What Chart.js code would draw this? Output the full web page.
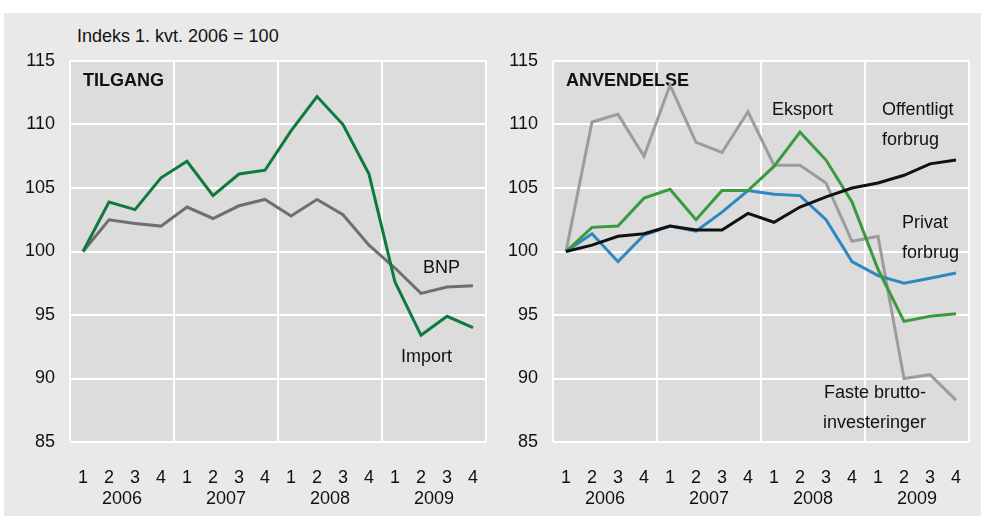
<!DOCTYPE html>
<html>
<head>
<meta charset="utf-8">
<script src="https://cdn.jsdelivr.net/npm/chart.js@4/dist/chart.umd.min.js"></script>
<style>
  body { margin: 0; background: #fff; width: 981px; height: 516px; position: relative; overflow: hidden; }
  #bg { position: absolute; left: 4px; top: 13px; right: 0; bottom: 0; background: #e9e9e9; }
  #unit { position: absolute; left: 77px; top: 26px; font: 18px 'Liberation Sans', Arial, sans-serif; color: #111; }
  .panel { position: absolute; top: 0; }
</style>
</head>
<body>
<div id="bg"></div>
<div id="unit">Indeks 1. kvt. 2006 = 100</div>
<canvas id="tilgang" class="panel" style="left:0" width="490" height="516"></canvas>
<canvas id="anvendelse" class="panel" style="left:490px" width="491" height="516"></canvas>
<script>
// kvartaler og år
const quarters = ['1','2','3','4','1','2','3','4','1','2','3','4','1','2','3','4'];
const years = ['2006','2007','2008','2009'];

// TILGANG
const importData = [100, 103.9, 103.3, 105.8, 107.1, 104.4, 106.1, 106.4, 109.5, 112.2, 110.0, 106.1, 97.6, 93.4, 94.9, 94.0];
const bnpData = [100, 102.5, 102.2, 102.0, 103.5, 102.6, 103.6, 104.1, 102.8, 104.1, 102.9, 100.5, 98.7, 96.7, 97.2, 97.3];

// ANVENDELSE
const offentligtData = [100, 100.5, 101.2, 101.4, 102.0, 101.7, 101.7, 103.0, 102.3, 103.5, 104.3, 105.0, 105.4, 106.0, 106.9, 107.2];
const eksportData = [100, 101.9, 102.0, 104.2, 104.9, 102.5, 104.8, 104.8, 106.7, 109.4, 107.2, 103.9, 98.6, 94.5, 94.9, 95.1];
const privatData = [100, 101.4, 99.2, 101.3, 102.0, 101.6, 103.1, 104.8, 104.5, 104.4, 102.5, 99.2, 98.1, 97.5, 97.9, 98.3];
const fasteData = [100, 110.2, 110.8, 107.5, 113.1, 108.6, 107.8, 111.0, 106.8, 106.8, 105.4, 100.8, 101.2, 90.0, 90.3, 88.3];

const FONT = "'Liberation Sans', Arial, sans-serif";
Chart.defaults.font.family = FONT;
Chart.defaults.font.size = 18;
Chart.defaults.color = '#111';

// grå baggrund bag plotområdet
const plotBg = {
  id: 'plotBg',
  beforeDraw(chart) {
    const a = chart.chartArea;
    const ctx = chart.ctx;
    ctx.save();
    ctx.fillStyle = '#dcdcdc';
    ctx.fillRect(a.left, a.top, a.right - a.left, a.bottom - a.top);
    ctx.restore();
  }
};

// tekster inde i plottet
const notes = {
  id: 'notes',
  beforeDatasetsDraw(chart, args, opts) {
    const ctx = chart.ctx;
    const x = chart.scales.x, y = chart.scales.y;
    ctx.save();
    ctx.fillStyle = '#111';
    ctx.textBaseline = 'middle';
    ctx.textAlign = 'left';
    for (const n of opts.items || []) {
      ctx.font = (n.bold ? 'bold ' : '') + '18px ' + FONT;
      ctx.fillText(n.text, x.getPixelForValue(n.i), y.getPixelForValue(n.v));
    }
    ctx.restore();
  }
};

// x-aksernes sidepadding må ikke skubbe plotområdet ind
function noSidePad(s, h) {
  s.height = h;
  s.paddingLeft = 0;
  s.paddingRight = 0;
}

function makeChart(id, datasets, items, yWidth, padRight) {
  return new Chart(document.getElementById(id), {
    type: 'line',
    data: { labels: quarters, datasets: datasets },
    options: {
      responsive: false,
      animation: false,
      layout: { padding: { left: 0, top: 61, right: padRight, bottom: 0 } },
      elements: { point: { radius: 0 }, line: { borderWidth: 3, tension: 0 } },
      plugins: { legend: { display: false }, tooltip: { enabled: false }, notes: { items: items } },
      scales: {
        x: {
          offset: true,
          grid: { display: false, drawTicks: false },
          border: { display: false },
          ticks: { autoSkip: false, maxRotation: 0, padding: 25 },
          afterFit(s) { noSidePad(s, 45); }
        },
        x2: {
          type: 'category',
          labels: years,
          position: 'bottom',
          offset: true,
          grid: { offset: true, color: '#fff', lineWidth: 2, drawTicks: false },
          border: { display: false },
          ticks: { maxRotation: 0, padding: 1 },
          afterFit(s) { noSidePad(s, 29); }
        },
        y: {
          min: 85,
          max: 115,
          grid: { color: '#fff', lineWidth: 2, drawTicks: false },
          border: { display: false },
          ticks: { stepSize: 5, padding: 15 },
          afterFit(s) { s.width = yWidth; }
        }
      }
    },
    plugins: [plotBg, notes]
  });
}

makeChart('tilgang', [
  { label: 'Import', data: importData, borderColor: '#0e7a3d' },
  { label: 'BNP', data: bnpData, borderColor: '#6f6f6f' }
], [
  { text: 'TILGANG', i: 0, v: 113.4, bold: true },
  { text: 'BNP', i: 13.08, v: 98.7 },
  { text: 'Import', i: 12.23, v: 91.7 }
], 70, 4);

makeChart('anvendelse', [
  { label: 'Offentligt forbrug', data: offentligtData, borderColor: '#111111' },
  { label: 'Eksport', data: eksportData, borderColor: '#3a9a3e' },
  { label: 'Privat forbrug', data: privatData, borderColor: '#2f87c1' },
  { label: 'Faste bruttoinvesteringer', data: fasteData, borderColor: '#9c9c9c' }
], [
  { text: 'ANVENDELSE', i: 0, v: 113.4, bold: true },
  { text: 'Eksport', i: 7.92, v: 111.14 },
  { text: 'Offentligt', i: 12.15, v: 111.14 },
  { text: 'forbrug', i: 12.15, v: 108.78 },
  { text: 'Privat', i: 12.92, v: 102.24 },
  { text: 'forbrug', i: 12.92, v: 99.88 },
  { text: 'Faste brutto-', i: 9.92, v: 88.86 },
  { text: 'investeringer', i: 9.88, v: 86.5 }
], 63, 12);
</script>
</body>
</html>
